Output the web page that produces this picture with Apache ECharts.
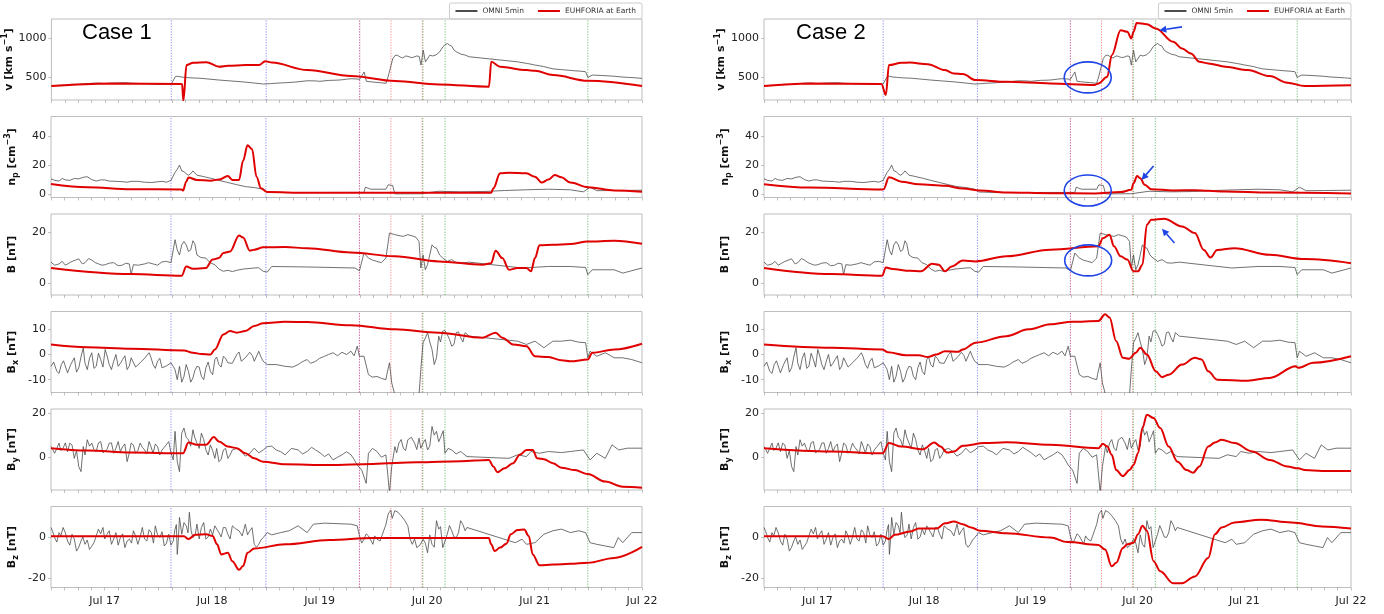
<!DOCTYPE html>
<html>
<head>
<meta charset="utf-8">
<script src="https://cdn.jsdelivr.net/npm/echarts@6/dist/echarts.min.js"></script>
<style>
html, body { margin: 0; padding: 0; background: #fff; }
#main { width: 1384px; height: 614px; }
</style>
</head>
<body>
<div id="main"></div>
<script>
// time = hours since Jul 17 00:00 UT, axis runs Jul 16 12:00 .. Jul 22 00:00
const dayLabels = ['Jul 17', 'Jul 18', 'Jul 19', 'Jul 20', 'Jul 21', 'Jul 22'];

// OMNI 5min (same observations in both cases); "Fine" arrays hold the extra wiggles read in the noisy stretches
const omniV = [[-12,390],[-9,400],[-6,410],[-3,425],[0,420],[3,430],[6,425],[9,418],[12,410],[14.8,415],[15.7,510],[17,505],[19,495],[21,490],[25.5,466],[30.5,444],[35.4,415],[38,425],[40.3,432],[45.2,457],[48,450],[50.1,462],[53,470],[55,483],[56.9,475],[57.9,570],[58.4,450],[60,440],[62.8,425],[63.3,517],[64.3,743],[65.3,786],[66.5,750],[67.7,770],[69,760],[70.2,770],[70.6,658],[71.1,850],[71.6,700],[72.6,786],[74,790],[75.5,893],[76.5,935],[77.5,900],[78.5,829],[80.5,786],[81.4,765],[92.2,700],[94.2,680],[96,660],[98,640],[100.1,610],[102,600],[104,590],[107.4,573],[107.9,500],[108.9,530],[113.8,515],[117,500],[120,487]];
const omniVFine = [[-10.5,398],[-7.5,412],[-4.5,418],[-1.5,428],[1.5,426],[4.5,432],[7.5,422],[10.5,415],[13.2,412],[16.2,515],[18,500],[20,492],[23,480],[28,455],[33,430],[37,420],[42.5,440],[47,455],[52,465],[54,478],[56.2,480],[59.2,445],[61.5,432],[64.8,780],[66,760],[67.2,775],[68.4,755],[69.6,775],[73.2,775],[74.8,830],[76,920],[77,915],[78,850],[79.5,800],[95.2,670],[97,650],[99,625],[103,595],[105,585],[106.3,580],[111,525],[115.5,505],[118.5,495]];
const omniNp = [[-12,10.5],[-10.2,9],[-8.8,9.8],[-6.8,10.8],[-4.8,11.6],[-2.9,10],[-0.9,9.8],[1,9],[3.9,8.6],[5.9,8.8],[8.9,8.2],[11.8,8.5],[13.8,8.2],[14.8,9.5],[15.7,15],[16.7,20],[17.2,16],[17.7,15.5],[18.7,13],[19.7,16],[20.6,13],[23.6,11],[27.5,8],[31.4,5.2],[35.4,3.4],[36.3,1.5],[40.3,1.1],[57.9,1.2],[58.2,4.8],[59.4,3.4],[62.8,3.4],[63.3,6.4],[64.3,6],[64.8,0.2],[70.6,0.3],[74.6,2],[79.5,1.6],[84.4,1.8],[89.3,2.5],[94.2,3],[99.1,3.4],[104,3],[106.9,1.6],[108.4,4.8],[109.9,2.4],[113.8,2.5],[120,2.7]];
const omniNpFine = [[-11.2,9.5],[-9.5,10.8],[-7.8,9.5],[-5.8,10.5],[-3.9,12],[-1.9,9],[0,9.8],[2.5,8.8],[5,8.2],[7.5,8.8],[10.5,8],[12.8,8.8],[16.2,17],[18.2,14],[19.2,14],[21.5,12.5],[25.5,9.5],[29.5,6.5],[33.5,4.5]];
const omniB = [[-12,8.2],[-10.2,7.5],[-8.8,7],[-7.3,8.5],[-5.8,9.5],[-4.4,8],[-2.9,9],[-1.4,7.5],[0.1,7.2],[2,8],[3.9,7],[5.5,7.5],[5.9,3.3],[6.4,7.2],[8.9,7.5],[10.8,7.5],[12.8,8.3],[14.8,8],[15.7,17],[16.7,11],[17.7,16.3],[18.7,12.4],[19.7,16.6],[20.6,11],[22.6,9.8],[24.6,7.2],[26.5,4.6],[29.5,5],[33.4,5.9],[35.4,4.6],[36.3,4.3],[37.3,6.5],[45.2,6.3],[55.9,5.9],[56.9,4.8],[57.9,11.8],[58.9,9.8],[60.8,8.5],[62.8,9.8],[63.6,19.6],[64.8,19],[66.7,18.3],[68.7,18.5],[70.2,16.3],[70.6,5.9],[71.1,11],[71.6,5.2],[72.1,7.2],[73.1,15],[74.1,13.7],[75.5,9.8],[77.5,9.2],[79.5,7.8],[81.4,8.2],[93.2,5.9],[99.1,6.5],[104,6.5],[107.4,6.1],[107.9,3.3],[108.9,5.2],[113.8,5.2],[115.7,3.9],[120,5.9]];
const omniBFine = [[-11.2,7],[-9.5,8.5],[-8,7.8],[-6.5,9],[-5,7.5],[-3.6,9.6],[-2.1,8],[-0.6,7],[1,7.8],[3,6.8],[4.7,7.8],[7.5,7],[9.8,8],[11.8,7],[13.8,8.5],[16.2,13],[17.2,15],[18.2,15],[19.2,13],[20.1,15.5],[21.5,10],[23.5,8],[25.5,5.5],[27.5,5],[28.5,4.5],[31,5.5],[34.4,6],[59.8,9],[61.8,8],[65.5,18.7],[67.7,19],[69.5,18],[72.6,11],[73.6,14],[74.8,11],[76.5,8.5],[78.5,8]];
const omniBx = [[-12,-4.7],[-10.7,-6.7],[-9.7,-4],[-8.3,-7.3],[-6.8,-1.3],[-5.8,-5.3],[-4.8,2.7],[-3.9,-6],[-2.9,0.7],[-1.9,-4.7],[-0.9,-2],[0.1,2],[1,-4],[2,-2.7],[3,-4.7],[4,-2],[5,-6],[5.9,-1.3],[7.9,-3.3],[9.9,0.7],[10.8,-4],[11.8,-2.7],[12.8,-5.3],[14.8,-3.3],[15.3,-4.7],[16.2,-10],[16.7,-4.7],[17.7,-8.7],[18.7,-6.7],[19.7,-9.3],[20.6,-4.7],[21.6,-8.7],[22.6,-5.3],[23.6,-6.7],[24.6,-2],[25.5,-4],[26.5,-0.7],[27.5,-3.3],[29.5,0],[30.5,-2.7],[31.4,-1.3],[32.4,0.9],[33.4,-2.7],[34.4,1.3],[35.4,-2.7],[36.3,-4],[40.3,-4.7],[43.2,-4],[45.2,-2],[47.1,-2.7],[49.1,-0.7],[51,0.7],[53,0.9],[54,0],[55,1.3],[56.4,3.3],[56.9,-0.7],[57.9,-0.7],[58.9,-8],[60.8,-8.7],[62.8,-10],[63.6,-3.3],[64.1,-11.3],[64.8,-16],[68.7,-16.5],[70.2,-16],[70.6,-6],[71.1,4.7],[72.1,8.7],[73.1,2],[74.1,-1.3],[74.6,7.3],[75.5,9.3],[76.5,8],[77.5,3.3],[78.5,8.7],[79.5,6.7],[80.5,8.7],[81.4,7.3],[92.2,5.3],[94.2,4],[96.1,5.3],[98.1,2.7],[100.1,5.3],[102,5.3],[104,5.7],[105.9,4.9],[107.4,4.7],[107.9,-1.3],[108.4,1.3],[109.9,-0.7],[111.8,0.7],[113.8,-1.3],[115.7,-1.3],[117.7,-2],[120,-3.3]];
const omniBxFine = [[-11.4,-3],[-10.2,-7.5],[-9.2,-2.5],[-7.6,-4],[-6.3,-7],[-5.3,-1],[-4.4,-3.5],[-3.4,-1.5],[-2.4,-5.5],[-1.4,0.5],[-0.4,-5],[0.6,-1],[1.5,-6],[2.5,0],[3.5,-3.5],[4.5,-0.5],[5.5,-4.5],[6.9,-5],[8.9,-1.5],[10.3,-1],[11.3,-5.5],[12.3,-1.5],[13.8,-4.5],[15.7,-6],[17.2,-11],[18.2,-4],[19.2,-11],[20.1,-6.5],[21.1,-5],[22.1,-10],[23.1,-3],[24.1,-8],[25,-1],[26,-5],[27,-1.5],[28.5,-3.5],[30,1],[33,-0.5],[34.9,-1],[38.3,-4],[42,-5],[44,-3],[46,-3.5],[48,-1.5],[50,0],[52,-0.5],[55.7,-0.5],[59.8,-9],[61.8,-9.5],[63,-8],[71.6,6.5],[72.6,5],[73.6,-4],[75,5],[76,9.5],[77,6],[78,4],[79,9],[80,5]];
const omniBy = [[-12,4.8],[-11.2,1.8],[-10.2,6.4],[-9.3,4.1],[-7.8,6.4],[-6.8,-0.5],[-5.8,-4.2],[-5.3,-6.5],[-4.8,4.8],[-3.9,7.9],[-2.9,6.4],[-1.9,2.6],[-0.9,7.1],[1,6.4],[2,1.8],[3,7.1],[4,4.8],[5,-2],[5.9,6.4],[6.9,1.8],[7.9,6.4],[8.9,3.3],[9.9,7.1],[10.8,1.8],[11.8,4.8],[12.8,3.3],[14.3,7.1],[15.3,-1.2],[15.7,11.7],[16.2,-2],[16.7,-6.5],[17.2,10.9],[17.7,13.2],[18.7,7.9],[19.7,12.4],[20.6,6.4],[21.6,10.9],[22.6,3.3],[23.6,5.6],[24.6,-0.5],[25.5,-2],[26.5,3.3],[27.5,-0.5],[28.5,3.3],[30.5,2.6],[32.4,1.8],[33.4,4.1],[35.4,3.3],[36.3,4.8],[38.3,3.3],[40.3,1.1],[43.2,3.3],[45.2,2.6],[47.1,3.3],[49.1,0.3],[51,-1.2],[53,1.1],[55,1.1],[56.4,-3.5],[57.4,-5.8],[58.4,-11.8],[58.9,1.8],[60.8,2.6],[62.8,1.1],[63.6,-16],[64.1,-4.2],[64.8,4.8],[65.7,6.4],[66.7,4.1],[67.7,7.9],[69.2,6.4],[70.2,8.6],[70.6,4.1],[71.1,6.4],[72.1,3.3],[73.1,13.9],[74.1,11.7],[75.1,9.4],[76,1.8],[77.5,3.3],[79.5,2.6],[80.9,0.3],[90.3,-0.5],[92.2,1.1],[94.2,0.3],[95.2,2.6],[97.1,1.8],[99.1,2.6],[102,2.1],[104,2.6],[106.9,3.3],[108.4,-1.2],[109.9,1.8],[111.8,-0.5],[113.3,5.6],[114.8,3.3],[116.7,4.1],[120,4.1]];
const omniByFine = [[-11.6,3.5],[-10.7,4],[-9.8,3],[-8.8,6.5],[-8.3,2.5],[-7.3,5.5],[-6.3,3],[-4.4,1],[-3.4,5],[-2.4,3.5],[-1.4,6.5],[-0.4,2],[0.5,3.5],[1.5,6.5],[2.5,4],[3.5,2.5],[4.5,6],[5.5,2],[6.4,5.5],[7.4,3],[8.4,4.5],[9.4,1.5],[10.3,5],[11.3,6],[12.3,1],[13.5,5],[14.8,2],[18.2,9],[19.2,5],[20.1,9],[21.1,4],[22.1,8],[23.1,1],[24.1,3],[25,4],[26,-1],[27,4],[28,1],[29.5,4],[31.4,0.5],[34.4,2],[37.3,5],[39.3,2.5],[41.7,4],[44.2,1.5],[46.2,4.5],[48.1,2],[50,1.5],[52,0],[54,2.5],[55.7,-1],[59.8,4],[61.8,0],[65.2,2],[66.2,8],[67.2,3],[68.5,9],[69.7,3.5],[71.6,8],[72.6,5],[73.6,10],[74.6,7],[75.6,12],[76.7,4],[78.5,1.5]];
const omniBz = [[-12,4.6],[-11.2,-0.3],[-10.2,2.1],[-9.3,4.6],[-8.3,-2],[-7.3,1.3],[-6.3,-6.9],[-5.3,-2],[-4.4,-3.6],[-3.4,-6.1],[-2.4,-2.8],[-1.4,3.8],[-0.4,4.6],[0.5,1.3],[1.5,-3.6],[2.5,2.1],[3.5,-0.3],[4.5,-5.2],[5.5,-1.1],[6.4,3],[7.4,-3.6],[8.4,4.6],[9.4,-2],[10.4,2.1],[11.3,5.4],[12.3,-0.3],[13.3,-4.4],[14.3,1.3],[15.3,-2],[15.7,3.8],[16.2,-8.5],[16.7,9.5],[17.2,1.3],[18.2,5.4],[18.9,12],[19.7,-0.3],[20.6,6.2],[21.6,4.6],[22.6,-1.1],[23.6,3.8],[24.6,5.4],[25.5,2.1],[26.5,4.6],[27.5,1.3],[28.5,5.4],[30,3],[31.4,6.2],[32.4,3],[33.4,-3.6],[34.4,-3.6],[35.4,-0.3],[36.3,2.1],[37.3,1],[39.3,2.1],[41.2,3],[43.2,5.4],[45.2,2.1],[46.6,6.2],[49.1,6.7],[55,6.2],[56.4,5.4],[56.9,0.5],[57.9,-1.1],[58.9,0.5],[59.9,-3.6],[60.8,-1.1],[62.3,3],[63.3,11.1],[64.8,12.8],[66.2,10.3],[67.7,5.4],[68.7,-3.6],[69.7,-5.2],[71.1,-1.1],[72.1,-7.7],[73.1,-3.6],[74.1,7.9],[74.6,3.8],[75.5,-5.2],[76.5,1.3],[77.5,3],[78.5,-0.3],[79.5,7.9],[80.5,3],[80.9,4.6],[91.7,-2.8],[93.2,-1.1],[94.2,-3.6],[96.1,-2.8],[98.1,1.3],[100.1,3],[102,3.8],[104,2.1],[105.9,3],[107.4,2.1],[108.4,-2.8],[109.9,-3.6],[111.8,-4.4],[113.7,-5.2],[114.7,-0.3],[115.7,-2.8],[117.7,2.1],[120,2.1]];
const omniBzFine = [[-11.6,2.5],[-10.7,-2.5],[-9.8,0.5],[-8.8,2],[-7.8,-4],[-6.8,-1],[-5.8,-5],[-4.9,0],[-3.9,-1.5],[-2.9,-4.5],[-1.9,0.5],[-0.9,1.5],[0,-1],[1,3],[2,-1],[3,-4],[4,1.5],[5,-2],[6,-3],[6.9,0.5],[7.9,0],[8.9,-1],[9.9,3.5],[10.9,-3],[11.8,1],[12.8,2.5],[13.8,-3],[14.8,-4],[16,6],[16.4,-3],[17.7,7],[18.6,2],[19.3,3],[20.2,1],[21.1,-1],[22.1,7],[23.1,0],[24.1,1],[25,6],[26,0],[27,4.5],[28,-1],[29.2,4],[30.7,0.5],[31.9,1],[32.9,4.5],[33.9,-5],[34.9,-1.5],[57.4,-3],[58.4,1.5],[59.4,-1.5],[60.3,0.5],[61.5,-2],[62.8,6],[63.9,13],[64.2,9],[65.5,12],[67,8],[68.2,-1],[69.2,-1],[70.4,-4],[71.6,-3],[72.6,1],[73.6,-5],[75,5],[76,-2],[77,5.5],[78,0],[79,2],[80,6]];

// EUHFORIA at Earth, case 1
const euf1V = [[-12,389],[1,423],[17.2,415],[17.5,200],[18.2,658],[19.7,688],[22.6,696],[25.5,637],[27.5,650],[31.4,658],[34.4,658],[35.8,709],[37.3,690],[45.2,594],[55,517],[64.8,453],[74.6,410],[85.8,380],[86.3,700],[88.3,637],[94.2,594],[96.1,585],[100.1,530],[107.9,457],[120,389]];
const euf1Np = [[-12,7],[-3.9,4.8],[5.9,3.4],[17.2,3.2],[17.5,2.5],[18.2,8.6],[18.7,11.4],[20.6,9.8],[23.6,9.3],[25.5,10],[27.5,12.5],[28.5,9.8],[30,9.8],[30.9,23],[31.9,33.6],[32.9,31],[33.9,12],[34.9,4],[36.3,1.4],[45.2,0.9],[86.3,0.9],[86.8,4],[88.3,14.3],[90.3,14.8],[94.2,14.3],[96.1,12],[97.6,8],[99.1,10],[100.5,13.2],[102,11.6],[104,8],[107.9,4.8],[113.8,2.5],[120,1.6]];
const euf1B = [[-12,5.9],[5.9,3.5],[17.2,2.9],[18.2,6.5],[19.7,5.6],[22.6,5.9],[24.1,9.2],[25.5,9.8],[26.5,11.8],[28,12.4],[30,18.7],[30.9,17.9],[32.4,12.7],[33.4,13.1],[35.4,14],[40.3,14.1],[45.2,13.7],[55,12],[64.8,10.5],[74.6,8.5],[84.4,7.2],[86.3,7.8],[87.3,12.7],[88.8,9.8],[90.3,5.2],[92.2,5.9],[94.2,5.9],[95.2,4.6],[96.1,9.8],[97.1,14.8],[100.1,15],[104,15.3],[107.9,16.3],[113.8,16.6],[120,15.4]];
const euf1Bx = [[-12,4],[-3.9,2.9],[5.9,2.3],[17.7,1.6],[19.7,0.7],[21.6,0.2],[23.6,0],[24.6,2],[26.5,8],[28,9.3],[29.5,8.7],[31.4,9.3],[33.4,11.3],[35.4,12.4],[40.3,13],[45.2,12.9],[55,11.6],[64.8,10],[74.6,8.7],[84.4,6.7],[87.3,8.7],[88.8,6.7],[91.2,4],[94.2,3.3],[96.1,-0.7],[99.1,-1],[102,-2.3],[104,-2.7],[107.9,-2],[108.9,0.7],[113.8,2],[120,4.3]];
const euf1By = [[-12,4.1],[-3.9,3],[5.9,2.1],[17.5,1.8],[18.7,6.7],[20.6,5.6],[22.6,5.6],[24.4,9.1],[25.5,7.1],[27.5,4.8],[29.5,4.1],[31.4,1.8],[33.4,-0.5],[35.4,-2],[40.3,-3.2],[50.1,-3.5],[59.9,-3],[69.7,-2.3],[79.5,-1.8],[85.8,-1.2],[86.8,-4.2],[87.7,-6.8],[89.3,-5],[91.2,-2.7],[92.7,1.1],[94.2,3.3],[95.6,3.3],[96.6,-0.5],[98.1,-0.9],[100.1,-2.7],[102,-4.7],[105,-5.8],[107.9,-7.6],[111.8,-11],[115.7,-13.3],[120,-13.8]];
const euf1Bz = [[-12,0.3],[17.7,0.3],[18.7,-1],[20.2,1],[22.6,1.3],[24.1,0.5],[25.1,-3.6],[26,-8.5],[27.5,-7.7],[28.5,-11.8],[30,-16],[30.9,-14.2],[31.9,-7.7],[33.4,-5.6],[40.3,-3.6],[50.1,-1.5],[59.9,-0.5],[85.8,-0.5],[86.3,-3.6],[87.1,-6.9],[88.3,-5.2],[89.7,-3.3],[90.7,1.3],[92.2,3.4],[93.7,3.6],[94.7,0.5],[95.6,-8.5],[97.1,-13.8],[100.1,-13.4],[104,-13.1],[107.9,-12.6],[113.8,-10.2],[120,-4.8]];

// EUHFORIA at Earth, case 2
const euf2V = [[-12,389],[-1.8,423],[14.4,415],[15.4,275],[16.1,658],[18.9,688],[20.8,690],[24.8,670],[28.7,594],[30.7,551],[32.7,543],[35.6,466],[42.5,444],[52.4,423],[62.3,402],[63.2,423],[65.2,508],[66.2,786],[68.2,1106],[69.7,1085],[70.6,1000],[71.1,1085],[71.8,1200],[74.1,1183],[76.1,1128],[80,957],[82,871],[84,807],[85.9,700],[87.9,680],[91.8,637],[96.8,594],[101.7,517],[105.7,432],[109.6,389],[120,398]];
const euf2Np = [[-12,6.8],[-1.8,4.5],[14.6,3.2],[14.9,3.4],[16.1,11.6],[18.9,8.6],[22.8,6.8],[28.7,5.7],[32.7,3.9],[36.6,2.5],[42.5,1.1],[52.4,0.7],[62.3,0.5],[68.2,1.4],[70.6,3],[71.1,7.5],[71.9,12.5],[72.6,11],[73.6,6.5],[75.1,3.4],[80,2.5],[84.9,2.7],[87.9,2.3],[91.8,1.8],[101.7,1.1],[120,0.5]];
const euf2B = [[-12,5.9],[3.1,3.5],[14.6,2.9],[15.4,6.1],[16.9,5.5],[20.8,4.8],[23.3,4.6],[25.8,7.6],[27.3,7.2],[28.7,4.6],[30.2,6.5],[32.7,8.8],[35.6,8.5],[42.5,10.5],[52.4,13.1],[63.2,14.4],[64.2,17.6],[65.7,19],[66.7,14.4],[68.2,10.5],[69.7,9.2],[71.1,4.6],[72.1,4.6],[73.1,7.2],[74.1,22.9],[75.1,24.8],[78,25.2],[82,22.2],[84.9,19.6],[86.9,13],[88.4,10],[89.9,13],[93.8,13.7],[101.7,11.1],[109.6,9.4],[120,7.8]];
const euf2Bx = [[-12,4],[3.1,2.7],[14.6,2],[15.9,0.9],[19.9,-0.3],[22.8,-0.3],[24.8,-1],[26.8,0],[28.7,1.3],[31.7,1.1],[32.7,2],[35.6,4.7],[42.5,7.3],[47.5,10],[52.4,12],[57.3,13],[63.2,13.3],[64.7,16],[65.7,14.7],[67.2,5.3],[68.7,-1.3],[70.1,-1.7],[71.6,0.7],[72.6,2.7],[74.1,0],[76.1,-6.7],[77.5,-9],[79,-8],[82,-4],[84.9,-1.3],[86.4,-2],[87.9,-6.7],[89.9,-10],[96.8,-10.4],[101.7,-9.3],[107.6,-4.7],[108.1,-5.3],[111.5,-3.3],[120,-0.7]];
const euf2By = [[-12,4.1],[3.1,2.6],[14.7,1.8],[16.1,6.4],[18.9,4.8],[23.8,3.6],[26.3,6.7],[27.7,4.8],[29.2,2.1],[30.7,2.6],[32.7,5.2],[37.6,6.4],[42.5,6.8],[52.4,5.6],[63.2,4.1],[64.2,6.1],[65.2,4.8],[66.2,1.1],[67.2,-5.8],[68.7,-8.5],[70.2,-5.8],[71.1,-3.5],[72.1,1.8],[73.1,13.2],[74.1,19.2],[75.6,17.7],[77.1,13.2],[79,4.8],[81,-2],[83,-5.8],[84.5,-7],[85.9,-4.2],[87.9,4.8],[89.4,6.7],[90.9,7.9],[93.8,6.4],[97.8,2.6],[101.7,-1.2],[105.7,-4.2],[108.1,-5],[109.6,-5.8],[113.5,-6.2],[120,-6.2]];
const euf2Bz = [[-12,0.3],[14.7,0.3],[16.1,-1],[17.4,1],[20.8,2.6],[22.8,4.1],[26.8,4.1],[28.7,6.6],[30.7,7.5],[32.7,6.2],[34.6,4.6],[36.6,3],[42.5,1.8],[52.4,-0.3],[56.3,-2.5],[63.2,-3.9],[64.7,-6.1],[66.2,-14.3],[67.2,-12.6],[68.7,-5.4],[69.7,-3.6],[71.1,-2.8],[72.1,1.3],[73.1,5.4],[74.1,3],[75.6,-11.8],[77.1,-16.7],[80,-22.5],[82,-22.5],[84.9,-19.2],[87.9,-10.2],[89.4,1.3],[90.9,4.6],[93.8,7],[99.7,8.4],[106.6,7],[113.5,5.1],[120,4.1]];

// shock / ICME boundary times, by colour
const blueTimes = [14.8, 36, 56.9];
const redTimes = [56.9, 63.9, 70.9];
const greenTimes = [71.05, 76, 107.9];

const merge = (a, b) => a.concat(b).sort((p, q) => p[0] - q[0]);

const panels = [
  {name: '{b|v [km s}{sup|−1}{b|]}', min: 210, max: 1250, ticks: [500, 1000], omni: merge(omniV, omniVFine), model: [euf1V, euf2V]},
  {name: '{b|n}{sub|p}{b| [cm}{sup|−3}{b|]}', min: -2.3, max: 53.4, ticks: [0, 20, 40], omni: merge(omniNp, omniNpFine), model: [euf1Np, euf2Np]},
  {name: '{b|B [nT]}', min: -4.7, max: 27.1, ticks: [0, 20], omni: merge(omniB, omniBFine), model: [euf1B, euf2B]},
  {name: '{b|B}{sub|x}{b| [nT]}', min: -15.1, max: 17.1, ticks: [-10, 0, 10], omni: merge(omniBx, omniBxFine), model: [euf1Bx, euf2Bx]},
  {name: '{b|B}{sub|y}{b| [nT]}', min: -14.8, max: 21.8, ticks: [0, 20], omni: merge(omniBy, omniByFine), model: [euf1By, euf2By]},
  {name: '{b|B}{sub|z}{b| [nT]}', min: -24.6, max: 14.8, ticks: [-20, 0], omni: merge(omniBz, omniBzFine), model: [euf1Bz, euf2Bz]}
];

const tops = [19, 116.5, 214, 311.5, 409, 506.5];
const cols = [{left: 51, width: 591}, {left: 764, width: 587}];
const eventGroups = [
  {times: blueTimes, color: 'rgba(90,90,255,0.7)'},
  {times: redTimes, color: 'rgba(255,90,90,0.7)'},
  {times: greenTimes, color: 'rgba(60,160,60,0.7)'}
];
const FONT = 'DejaVu Sans';

const grid = [], xAxis = [], yAxis = [], series = [];
cols.forEach((c, ci) => {
  panels.forEach((p, ri) => {
    const gi = ci * 6 + ri;
    grid.push({left: c.left, width: c.width, top: tops[ri], height: 81,
      show: true, borderColor: '#bdbdbd', borderWidth: 1});
    xAxis.push({
      type: 'value', gridIndex: gi, min: -12, max: 120, interval: 3,
      axisLine: {show: false, onZero: false}, splitLine: {show: false},
      axisTick: {show: true, length: 3, lineStyle: {color: '#999', width: 0.6}},
      axisLabel: {
        show: ri === 5, margin: 8, fontSize: 11, color: '#222', fontFamily: FONT,
        formatter: v => (v % 24 === 0 ? dayLabels[v / 24] : '')
      }
    });
    yAxis.push({
      type: 'value', gridIndex: gi, min: p.min, max: p.max,
      name: p.name, nameLocation: 'middle', nameRotate: 90, nameGap: 31,
      nameTextStyle: {
        fontFamily: FONT, fontWeight: 'bold', color: '#111',
        rich: {
          b: {fontSize: 11, fontWeight: 'bold', fontFamily: FONT, lineHeight: 16},
          sup: {fontSize: 8, fontWeight: 'bold', fontFamily: FONT, lineHeight: 8, verticalAlign: 'top'},
          sub: {fontSize: 8, fontWeight: 'bold', fontFamily: FONT, lineHeight: 8, verticalAlign: 'bottom'}
        }
      },
      axisLine: {show: false, onZero: false}, splitLine: {show: false},
      axisTick: {show: true, length: 3, customValues: p.ticks, lineStyle: {color: '#999', width: 0.6}},
      axisLabel: {customValues: p.ticks, margin: 5, fontSize: 11, color: '#222', fontFamily: FONT,
        formatter: v => String(v)}
    });
    // vertical event lines, each a two-point series spanning the panel
    eventGroups.forEach(g => {
      g.times.forEach(t => {
        series.push({
          type: 'line', xAxisIndex: gi, yAxisIndex: gi, silent: true, symbol: 'none', z: 1,
          color: g.color, data: [[t, p.min], [t, p.max]],
          itemStyle: {color: g.color},
          lineStyle: {color: g.color, type: [1.2, 1.5], width: 1}
        });
      });
    });
    series.push({
      name: 'OMNI 5min', type: 'line', xAxisIndex: gi, yAxisIndex: gi,
      data: p.omni, symbol: 'none', z: 2,
      lineStyle: {color: '#4d4d4d', width: 0.8}, itemStyle: {color: '#4d4d4d'}
    });
    series.push({
      name: 'EUHFORIA at Earth', type: 'line', xAxisIndex: gi, yAxisIndex: gi,
      data: p.model[ci], symbol: 'none', smooth: 0.35, smoothMonotone: 'x', z: 3,
      lineStyle: {color: '#e00000', width: 2}, itemStyle: {color: '#e00000'}
    });
  });
});

const legendBase = {
  top: 3, orient: 'horizontal', itemWidth: 22, itemHeight: 2, itemGap: 14,
  padding: [4, 6, 4, 6], borderColor: '#cccccc', borderWidth: 1, borderRadius: 2,
  textStyle: {fontSize: 7.5, color: '#333', fontFamily: FONT},
  data: [
    {name: 'OMNI 5min', icon: 'rect', itemStyle: {color: '#4d4d4d'}},
    {name: 'EUHFORIA at Earth', icon: 'rect', itemStyle: {color: '#e00000'}}
  ]
};

const chart = echarts.init(document.getElementById('main'), null, {renderer: 'canvas'});
chart.setOption({
  animation: false,
  backgroundColor: '#fff',
  grid, xAxis, yAxis, series,
  legend: [
    Object.assign({}, legendBase, {right: 1384 - 642}),
    Object.assign({}, legendBase, {right: 1384 - 1351})
  ]
});

// annotations for case 2 (in data coordinates)
const circles = [
  {gi: 6, t: 60.8, y: 500},
  {gi: 7, t: 60.8, y: 2.5},
  {gi: 8, t: 60.9, y: 8.9}
];
const arrows = [
  {gi: 6, from: [82.0, 1149], to: [76.9, 1106]},
  {gi: 7, from: [75.6, 19.3], to: [72.9, 9.8]},
  {gi: 8, from: [80.3, 15.7], to: [77.5, 21.3]}
];
const ANNO = '#1f45e6';
const graphic = [
  {type: 'text', left: 82, top: 22, style: {text: 'Case 1', font: '22px "Liberation Sans", Arial, sans-serif', fill: '#000'}},
  {type: 'text', left: 796, top: 22, style: {text: 'Case 2', font: '22px "Liberation Sans", Arial, sans-serif', fill: '#000'}}
];
circles.forEach(c => {
  const [cx, cy] = chart.convertToPixel({gridIndex: c.gi}, [c.t, c.y]);
  graphic.push({type: 'ellipse', shape: {cx, cy, rx: 23.5, ry: 15.5}, z: 10,
    style: {fill: 'none', stroke: ANNO, lineWidth: 1.6}});
});
arrows.forEach(a => {
  const p0 = chart.convertToPixel({gridIndex: a.gi}, a.from);
  const p1 = chart.convertToPixel({gridIndex: a.gi}, a.to);
  const dx = p1[0] - p0[0], dy = p1[1] - p0[1];
  const len = Math.hypot(dx, dy), ux = dx / len, uy = dy / len;
  const hl = 7, hw = 3.5;
  const bx = p1[0] - ux * hl, by = p1[1] - uy * hl;
  graphic.push({type: 'line', z: 10, shape: {x1: p0[0], y1: p0[1], x2: bx, y2: by},
    style: {stroke: ANNO, lineWidth: 1.6}});
  graphic.push({type: 'polygon', z: 10,
    shape: {points: [[p1[0], p1[1]], [bx - uy * hw, by + ux * hw], [bx + uy * hw, by - ux * hw]]},
    style: {fill: ANNO}});
});
chart.setOption({graphic});
</script>
</body>
</html>
